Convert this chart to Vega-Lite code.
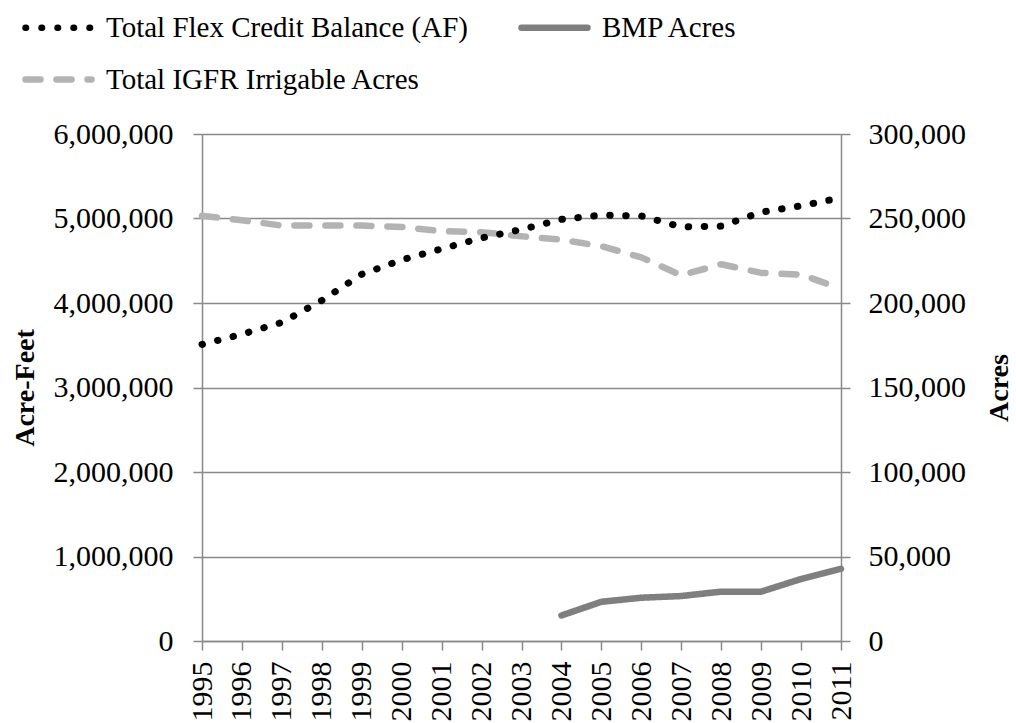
{
  "$schema": "https://vega.github.io/schema/vega-lite/v6.json",
  "width": 639,
  "height": 507,
  "autosize": {"type": "none"},
  "padding": {"left": 202, "top": 134, "right": 175, "bottom": 82},
  "background": "white",
  "config": {
    "view": {"stroke": null},
    "font": "Liberation Serif",
    "axis": {
      "labelFont": "Liberation Serif",
      "titleFont": "Liberation Serif",
      "labelFontSize": 30,
      "titleFontSize": 28,
      "labelColor": "black",
      "titleColor": "black",
      "domainColor": "#898989",
      "domainWidth": 1.5,
      "tickColor": "#898989",
      "tickWidth": 1.5,
      "tickSize": 9,
      "gridColor": "#898989",
      "gridWidth": 1.5
    },
    "legend": {
      "labelFont": "Liberation Serif",
      "labelFontSize": 29,
      "labelColor": "black"
    }
  },
  "data": {
    "values": [
      {"year": "1995", "series": "Total Flex Credit Balance (AF)", "value": 3510000},
      {"year": "1996", "series": "Total Flex Credit Balance (AF)", "value": 3630000},
      {"year": "1997", "series": "Total Flex Credit Balance (AF)", "value": 3770000},
      {"year": "1998", "series": "Total Flex Credit Balance (AF)", "value": 4030000},
      {"year": "1999", "series": "Total Flex Credit Balance (AF)", "value": 4340000},
      {"year": "2000", "series": "Total Flex Credit Balance (AF)", "value": 4510000},
      {"year": "2001", "series": "Total Flex Credit Balance (AF)", "value": 4640000},
      {"year": "2002", "series": "Total Flex Credit Balance (AF)", "value": 4770000},
      {"year": "2003", "series": "Total Flex Credit Balance (AF)", "value": 4870000},
      {"year": "2004", "series": "Total Flex Credit Balance (AF)", "value": 4990000},
      {"year": "2005", "series": "Total Flex Credit Balance (AF)", "value": 5040000},
      {"year": "2006", "series": "Total Flex Credit Balance (AF)", "value": 5030000},
      {"year": "2007", "series": "Total Flex Credit Balance (AF)", "value": 4900000},
      {"year": "2008", "series": "Total Flex Credit Balance (AF)", "value": 4910000},
      {"year": "2009", "series": "Total Flex Credit Balance (AF)", "value": 5075000},
      {"year": "2010", "series": "Total Flex Credit Balance (AF)", "value": 5150000},
      {"year": "2011", "series": "Total Flex Credit Balance (AF)", "value": 5245000},
      {"year": "1995", "series": "Total IGFR Irrigable Acres", "value": 251600},
      {"year": "1996", "series": "Total IGFR Irrigable Acres", "value": 249000},
      {"year": "1997", "series": "Total IGFR Irrigable Acres", "value": 245800},
      {"year": "1998", "series": "Total IGFR Irrigable Acres", "value": 245800},
      {"year": "1999", "series": "Total IGFR Irrigable Acres", "value": 245800},
      {"year": "2000", "series": "Total IGFR Irrigable Acres", "value": 245000},
      {"year": "2001", "series": "Total IGFR Irrigable Acres", "value": 242500},
      {"year": "2002", "series": "Total IGFR Irrigable Acres", "value": 241900},
      {"year": "2003", "series": "Total IGFR Irrigable Acres", "value": 239500},
      {"year": "2004", "series": "Total IGFR Irrigable Acres", "value": 237500},
      {"year": "2005", "series": "Total IGFR Irrigable Acres", "value": 233600},
      {"year": "2006", "series": "Total IGFR Irrigable Acres", "value": 227000},
      {"year": "2007", "series": "Total IGFR Irrigable Acres", "value": 216400},
      {"year": "2008", "series": "Total IGFR Irrigable Acres", "value": 222900},
      {"year": "2009", "series": "Total IGFR Irrigable Acres", "value": 217800},
      {"year": "2010", "series": "Total IGFR Irrigable Acres", "value": 216800},
      {"year": "2011", "series": "Total IGFR Irrigable Acres", "value": 208500},
      {"year": "2004", "series": "BMP Acres", "value": 15100},
      {"year": "2005", "series": "BMP Acres", "value": 23200},
      {"year": "2006", "series": "BMP Acres", "value": 25600},
      {"year": "2007", "series": "BMP Acres", "value": 26600},
      {"year": "2008", "series": "BMP Acres", "value": 29200},
      {"year": "2009", "series": "BMP Acres", "value": 29200},
      {"year": "2010", "series": "BMP Acres", "value": 36700},
      {"year": "2011", "series": "BMP Acres", "value": 42700}
    ]
  },
  "encoding": {
    "x": {
      "field": "year",
      "type": "ordinal",
      "sort": null,
      "scale": {"type": "point", "padding": 0},
      "axis": {
        "title": null,
        "labelAngle": 270,
        "labelPadding": 11,
        "grid": false,
        "labelFontSize": 30
      }
    },
    "color": {
      "field": "series",
      "type": "nominal",
      "title": null,
      "scale": {
        "domain": ["Total Flex Credit Balance (AF)", "BMP Acres", "Total IGFR Irrigable Acres"],
        "range": ["#000000", "#7f7f7f", "#b3b3b3"]
      },
      "legend": {
        "orient": "none",
        "legendX": -180,
        "legendY": -143,
        "columns": 2,
        "direction": "horizontal",
        "symbolType": "stroke",
        "symbolSize": 4356,
        "symbolStrokeWidth": 6.5,
        "labelOffset": 11,
        "columnPadding": 40,
        "rowPadding": -27,
        "padding": 0,
        "labelLimit": 600,
        "encode": {
          "symbols": {"update": {"strokeCap": {"value": "round"}}}
        }
      }
    },
    "strokeDash": {
      "field": "series",
      "type": "nominal",
      "title": null,
      "scale": {
        "domain": ["Total Flex Credit Balance (AF)", "BMP Acres", "Total IGFR Irrigable Acres"],
        "range": [[0.5, 15.5], [1, 0], [15, 16]]
      }
    }
  },
  "layer": [
    {
      "transform": [{"filter": "datum.series !== 'Total Flex Credit Balance (AF)'"}],
      "mark": {"type": "line", "strokeWidth": 6.5, "strokeCap": "round", "strokeJoin": "round"},
      "encoding": {
        "y": {
          "field": "value",
          "type": "quantitative",
          "scale": {"domain": [0, 300000], "nice": false},
          "axis": {
            "orient": "right",
            "title": "Acres",
            "titleFontWeight": "bold",
            "titleAngle": 270,
            "titlePadding": 48,
            "values": [0, 50000, 100000, 150000, 200000, 250000, 300000],
            "format": ",d",
            "grid": false,
            "labelPadding": 18
          }
        }
      }
    },
    {
      "transform": [{"filter": "datum.series === 'Total Flex Credit Balance (AF)'"}],
      "mark": {"type": "line", "strokeWidth": 7, "strokeCap": "round", "strokeJoin": "round"},
      "encoding": {
        "y": {
          "field": "value",
          "type": "quantitative",
          "scale": {"domain": [0, 6000000], "nice": false},
          "axis": {
            "orient": "left",
            "title": "Acre-Feet",
            "titleFontWeight": "bold",
            "titlePadding": 14,
            "values": [0, 1000000, 2000000, 3000000, 4000000, 5000000, 6000000],
            "format": ",d",
            "grid": true,
            "labelPadding": 20
          }
        }
      }
    }
  ],
  "resolve": {"scale": {"y": "independent"}}
}
